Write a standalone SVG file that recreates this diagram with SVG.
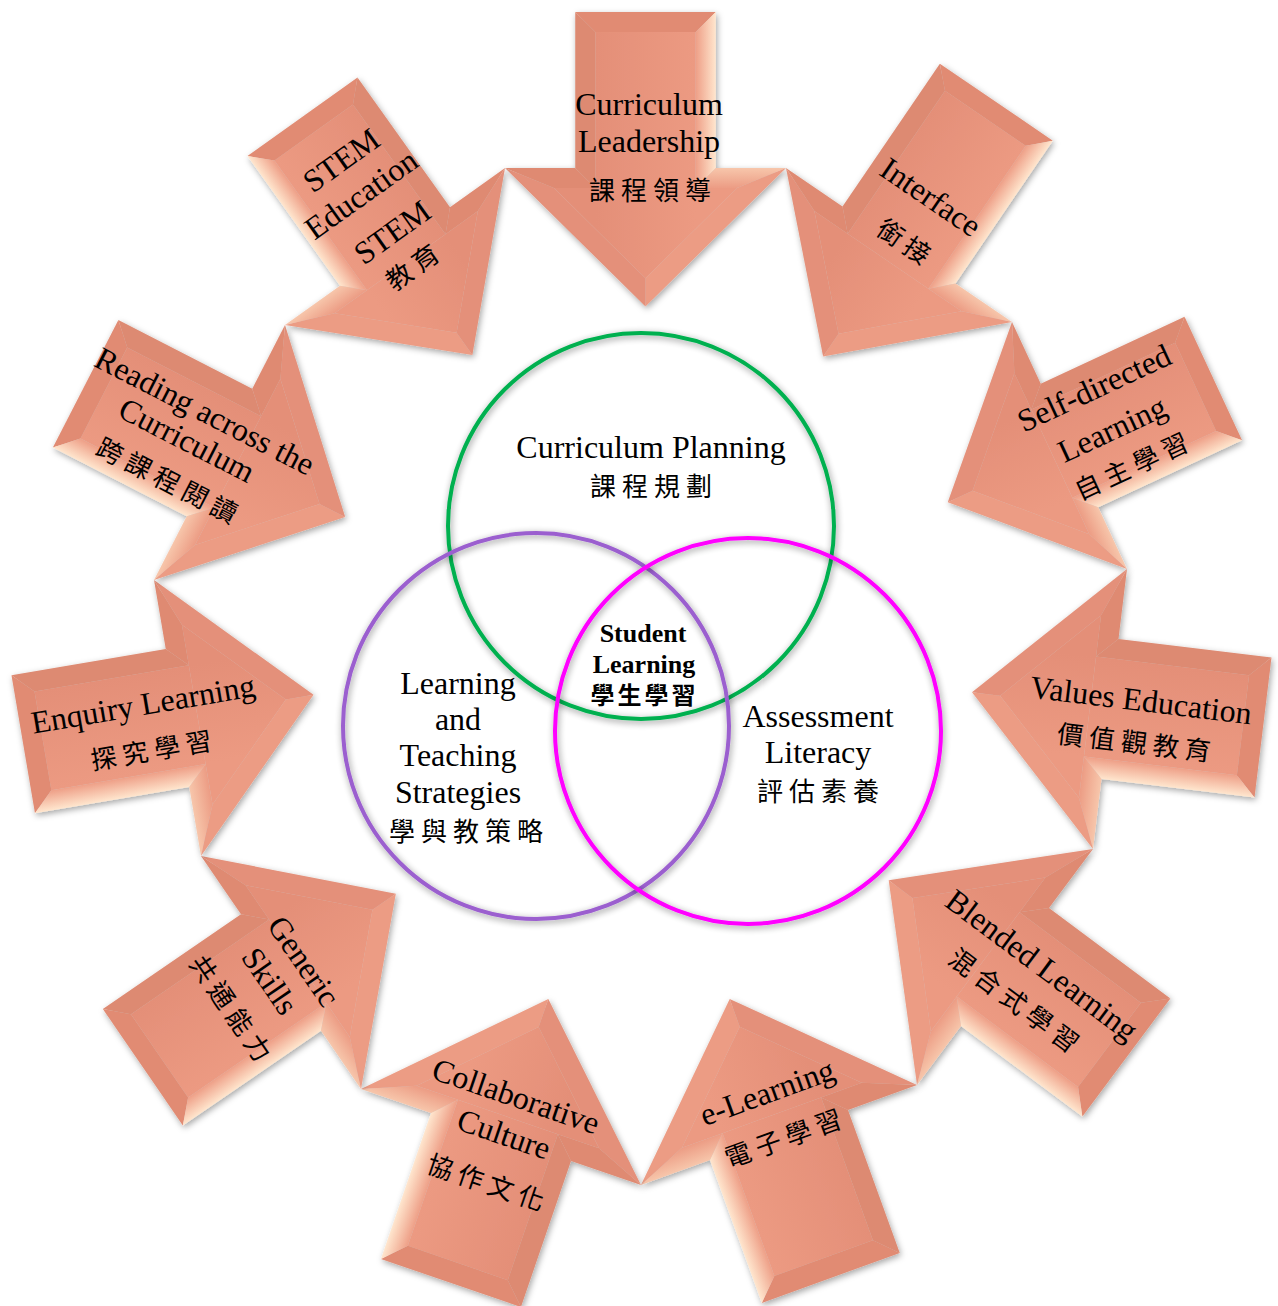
<svg xmlns="http://www.w3.org/2000/svg" xmlns:xlink="http://www.w3.org/1999/xlink" width="1278" height="1306" viewBox="0 0 1278 1306">
<defs>
<style>
.en{font-family:"Liberation Serif","Times New Roman",serif;font-size:32px;fill:#000;text-anchor:middle}
.zh{font-family:"Noto Sans CJK TC","Noto Sans CJK SC",sans-serif;font-size:26px;letter-spacing:6px;fill:#000;text-anchor:middle}
.enb{font-family:"Liberation Serif","Times New Roman",serif;font-size:26px;font-weight:bold;fill:#000;text-anchor:middle}
.zhb{font-family:"Noto Sans CJK TC","Noto Sans CJK SC",sans-serif;font-size:24px;font-weight:bold;letter-spacing:3px;fill:#000;text-anchor:middle}
.ring{fill:none;stroke-width:4}
.fa{fill:url(#gFace)}
.ft{fill:#E18B73}
.fr{fill:url(#gR)}
.fl{fill:#DD8A72}
</style>
<filter id="ash" x="-20%" y="-20%" width="140%" height="140%">
<feDropShadow dx="1.5" dy="2.5" stdDeviation="3" flood-color="#000" flood-opacity="0.35"/>
</filter>
<filter id="csh" x="-10%" y="-10%" width="120%" height="120%">
<feGaussianBlur in="SourceAlpha" stdDeviation="3.5"/>
<feOffset dx="1" dy="2" result="b"/>
<feComponentTransfer><feFuncA type="linear" slope="0.45"/></feComponentTransfer>
<feMerge><feMergeNode/><feMergeNode in="SourceGraphic"/></feMerge>
</filter>
<linearGradient id="gFace" gradientUnits="userSpaceOnUse" x1="-50" y1="0" x2="50" y2="0">
<stop offset="0" stop-color="#E48F78"/><stop offset="1" stop-color="#EC9A82"/>
</linearGradient>
<linearGradient id="gR" gradientUnits="userSpaceOnUse" x1="70" y1="0" x2="50" y2="0">
<stop offset="0" stop-color="#FFE6CE"/><stop offset="1" stop-color="#EE9F87"/>
</linearGradient>
<linearGradient id="gRB" gradientUnits="userSpaceOnUse" x1="0" y1="0" x2="0" y2="20">
<stop offset="0" stop-color="#F7C6AB"/><stop offset="1" stop-color="#EC9C84"/>
</linearGradient>
<g id="head">
<polygon points="50,20 91.2,20 0,109.9 -91.2,20 -50,20" fill="url(#gFace)"/>
<polygon points="70,0 140,0 91.2,20 50,20" fill="url(#gRB)"/>
<polygon points="140,0 0,138 0,109.9 91.2,20" fill="#EC9C84"/>
<polygon points="0,138 -140,0 -91.2,20 0,109.9" fill="#E4907A"/>
<polygon points="-140,0 -70,0 -50,20 -91.2,20" fill="#DF8A72"/>
</g>
</defs>
<rect width="1278" height="1306" fill="#fff"/>

<g id="arrows">
<g id="node-curriculum-leadership">
<g filter="url(#ash)"><g transform="translate(645.5,168) rotate(0) scale(1.0036)">
<rect class="fa" x="-50" y="-135.5" width="100" height="155.5"/>
<polygon class="ft" points="-70,-155.5 70,-155.5 50,-135.5 -50,-135.5"/>
<polygon class="fr" points="70,-155.5 70,0 50,20 50,-135.5"/>
<polygon class="fl" points="-70,0 -70,-155.5 -50,-135.5 -50,20"/>
<use href="#head"/></g></g>
<text class="en" transform="translate(649,104)" y="11">Curriculum</text>
<text class="en" transform="translate(649,141)" y="11">Leadership</text>
<text class="zh" transform="translate(650,190)" x="3" y="10">課程領導</text>
</g>
<g id="node-interface">
<g filter="url(#ash)"><g transform="translate(899,245) rotate(34.27) scale(0.9767)">
<rect class="fa" x="-50" y="-157" width="100" height="177"/>
<polygon class="ft" points="-70,-177 70,-177 50,-157 -50,-157"/>
<polygon class="fr" points="70,-177 70,0 50,20 50,-157"/>
<polygon class="fl" points="-70,0 -70,-177 -50,-157 -50,20"/>
<use href="#head"/></g></g>
<text class="en" transform="translate(931,197) rotate(34.27)" y="11">Interface</text>
<text class="zh" transform="translate(904,241) rotate(34.27)" x="3" y="10">銜接</text>
</g>
<g id="node-self-directed-learning">
<g filter="url(#ash)"><g transform="translate(1069.5,445.5) rotate(65.04) scale(0.9731)">
<rect class="fa" x="-50" y="-143" width="100" height="163"/>
<polygon class="ft" points="-70,-163 70,-163 50,-143 -50,-143"/>
<polygon class="fr" points="70,-163 70,0 50,20 50,-143"/>
<polygon class="fl" points="-70,0 -70,-163 -50,-143 -50,20"/>
<use href="#head"/></g></g>
<text class="en" transform="translate(1094,388) rotate(-24.96)" y="11">Self-directed</text>
<text class="en" transform="translate(1112,429) rotate(-24.96)" y="11">Learning</text>
<text class="zh" transform="translate(1131,466) rotate(-24.96)" x="3" y="10">自主學習</text>
</g>
<g id="node-values-education">
<g filter="url(#ash)"><g transform="translate(1110,709) rotate(96.92) scale(1.0074)">
<rect class="fa" x="-50" y="-133" width="100" height="153"/>
<polygon class="ft" points="-70,-153 70,-153 50,-133 -50,-133"/>
<polygon class="fr" points="70,-153 70,0 50,20 50,-133"/>
<polygon class="fl" points="-70,0 -70,-153 -50,-133 -50,20"/>
<use href="#head"/></g></g>
<text class="en" transform="translate(1141,700) rotate(6.92)" y="11">Values Education</text>
<text class="zh" transform="translate(1134,742) rotate(6.92)" x="3" y="10">價值觀教育</text>
</g>
<g id="node-blended-learning">
<g filter="url(#ash)"><g transform="translate(1005,967) rotate(126.71) scale(1.0514)">
<rect class="fa" x="-50" y="-124" width="100" height="144"/>
<polygon class="ft" points="-70,-144 70,-144 50,-124 -50,-124"/>
<polygon class="fr" points="70,-144 70,0 50,20 50,-124"/>
<polygon class="fl" points="-70,0 -70,-144 -50,-124 -50,20"/>
<use href="#head"/></g></g>
<text class="en" transform="translate(1042,965) rotate(36.71)" y="11">Blended Learning</text>
<text class="zh" transform="translate(1014,1000) rotate(36.71)" x="3" y="10">混合式學習</text>
</g>
<g id="node-e-learning">
<g filter="url(#ash)"><g transform="translate(779,1135) rotate(160.08) scale(1.0484)">
<rect class="fa" x="-50" y="-125" width="100" height="145"/>
<polygon class="ft" points="-70,-145 70,-145 50,-125 -50,-125"/>
<polygon class="fr" points="70,-145 70,0 50,20 50,-125"/>
<polygon class="fl" points="-70,0 -70,-145 -50,-125 -50,20"/>
<use href="#head"/></g></g>
<text class="en" transform="translate(767,1092) rotate(-19.92)" y="11">e-Learning</text>
<text class="zh" transform="translate(783,1138) rotate(-19.92)" x="3" y="10">電子學習</text>
</g>
<g id="node-collaborative-culture">
<g filter="url(#ash)"><g transform="translate(501,1137) rotate(198.92) scale(1.0571)">
<rect class="fa" x="-50" y="-126" width="100" height="146"/>
<polygon class="ft" points="-70,-146 70,-146 50,-126 -50,-126"/>
<polygon class="fr" points="70,-146 70,0 50,20 50,-126"/>
<polygon class="fl" points="-70,0 -70,-146 -50,-126 -50,20"/>
<use href="#head"/></g></g>
<text class="en" transform="translate(516,1096) rotate(18.92)" y="11">Collaborative</text>
<text class="en" transform="translate(504,1134) rotate(18.92)" y="11">Culture</text>
<text class="zh" transform="translate(486,1182) rotate(18.92)" x="3" y="10">協作文化</text>
</g>
<g id="node-generic-skills">
<g filter="url(#ash)"><g transform="translate(281,972.5) rotate(235.52) scale(-1.0095,1.0095)">
<rect class="fa" x="-50" y="-146" width="100" height="166"/>
<polygon class="ft" points="-70,-166 70,-166 50,-146 -50,-146"/>
<polygon class="fr" points="70,-166 70,0 50,20 50,-146"/>
<polygon class="fl" points="-70,0 -70,-166 -50,-146 -50,20"/>
<use href="#head"/></g></g>
<text class="en" transform="translate(304,961) rotate(55.52)" y="11">Generic</text>
<text class="en" transform="translate(270,981) rotate(55.52)" y="11">Skills</text>
<text class="zh" transform="translate(231,1008) rotate(55.52)" x="3" y="10">共通能力</text>
</g>
<g id="node-enquiry-learning">
<g filter="url(#ash)"><g transform="translate(177.5,718) rotate(260.34) scale(-1,1)">
<rect class="fa" x="-50" y="-136.5" width="100" height="156.5"/>
<polygon class="ft" points="-70,-156.5 70,-156.5 50,-136.5 -50,-136.5"/>
<polygon class="fr" points="70,-156.5 70,0 50,20 50,-136.5"/>
<polygon class="fl" points="-70,0 -70,-156.5 -50,-136.5 -50,20"/>
<use href="#head"/></g></g>
<text class="en" transform="translate(143,704) rotate(-9.66)" y="11">Enquiry Learning</text>
<text class="zh" transform="translate(151,750) rotate(-9.66)" x="3" y="10">探究學習</text>
</g>
<g id="node-reading-across-the-curriculum">
<g filter="url(#ash)"><g transform="translate(219.5,452.5) rotate(297.19) scale(-1.0239,1.0239)">
<rect class="fa" x="-50" y="-127" width="100" height="147"/>
<polygon class="ft" points="-70,-147 70,-147 50,-127 -50,-127"/>
<polygon class="fr" points="70,-147 70,0 50,20 50,-127"/>
<polygon class="fl" points="-70,0 -70,-147 -50,-127 -50,20"/>
<use href="#head"/></g></g>
<text class="en" transform="translate(205,411) rotate(27.19)" y="11">Reading across the</text>
<text class="en" transform="translate(187,440) rotate(27.19)" y="11">Curriculum</text>
<text class="zh" transform="translate(167,480) rotate(27.19)" x="3" y="10">跨課程閱讀</text>
</g>
<g id="node-stem-education">
<g filter="url(#ash)"><g transform="translate(395,246.5) rotate(324.49) scale(-0.9653,0.9653)">
<rect class="fa" x="-50" y="-145" width="100" height="165"/>
<polygon class="ft" points="-70,-165 70,-165 50,-145 -50,-145"/>
<polygon class="fr" points="70,-165 70,0 50,20 50,-145"/>
<polygon class="fl" points="-70,0 -70,-165 -50,-145 -50,20"/>
<use href="#head"/></g></g>
<text class="en" transform="translate(341,160) rotate(-35.51)" y="11">STEM</text>
<text class="en" transform="translate(361,194) rotate(-35.51)" y="11">Education</text>
<text class="en" transform="translate(392,232) rotate(-35.51)" y="11">STEM</text>
<text class="zh" transform="translate(412,267) rotate(-35.51)" x="3" y="10">教育</text>
</g>
</g>

<g id="connectors"></g>

<g id="venn">
<g id="node-curriculum-planning">
<circle class="ring" cx="641" cy="526" r="193" stroke="#00B050" filter="url(#csh)"/>
<text class="en" x="651" y="458">Curriculum Planning</text>
<text class="zh" x="654" y="496">課程規劃</text>
</g>
<g id="node-learning-teaching-strategies">
<circle class="ring" cx="536" cy="726" r="193" stroke="#9B5FCF" filter="url(#csh)"/>
<text class="en" x="458" y="694">Learning</text>
<text class="en" x="458" y="730">and</text>
<text class="en" x="458" y="766">Teaching</text>
<text class="en" x="458" y="803">Strategies</text>
<text class="zh" x="469" y="841">學與教策略</text>
</g>
<g id="node-assessment-literacy">
<circle class="ring" cx="748" cy="731" r="193" stroke="#FF00FF" filter="url(#csh)"/>
<text class="en" x="818" y="727">Assessment</text>
<text class="en" x="818" y="763">Literacy</text>
<text class="zh" x="821" y="801">評估素養</text>
</g>
<g id="node-student-learning">
<text class="enb" x="643" y="641.5">Student</text>
<text class="enb" x="644" y="672.5">Learning</text>
<text class="zhb" x="644.5" y="704">學生學習</text>
</g>
</g>
</svg>
